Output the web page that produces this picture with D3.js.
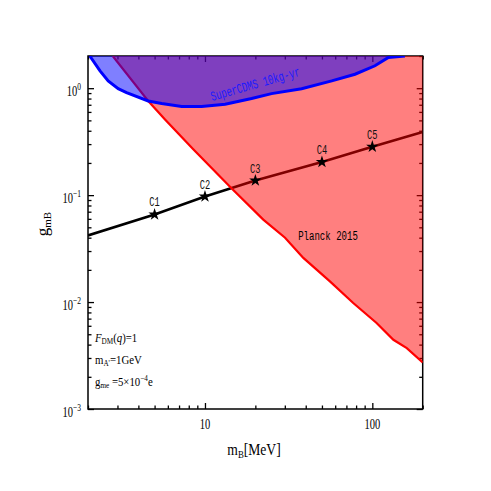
<!DOCTYPE html>
<html><head><meta charset="utf-8">
<script src="https://cdn.jsdelivr.net/npm/d3@7"></script>
<style>body{margin:0;background:#fff}svg{display:block}</style>
</head><body>
<script>
// ---- data ----
const benchMass = [5, 10, 20, 50, 100];
const benchG = [0.066, 0.097, 0.137, 0.204, 0.284];
const benchNames = ["C1", "C2", "C3", "C4", "C5"];
const lineMass = [2, 5, 10, 20, 50, 100, 200];
const lineG = [0.042, 0.066, 0.097, 0.137, 0.204, 0.284, 0.39];
const planckMass = [2.81, 4.58, 5.77, 8.51, 14.4, 22.3, 30.1, 38.7, 55.8, 76.9, 106, 133.6, 160.7, 200];
const planckG = [2.0, 0.76, 0.51, 0.268, 0.116, 0.059, 0.040, 0.0259, 0.0156, 0.0098, 0.00637, 0.00444, 0.00371, 0.00272];
const cdmsMass = [2.05, 2.36, 2.64, 3.03, 3.40, 4.58, 5.51, 7.26, 9.55, 13.2, 19.0, 25.0, 37.8, 57.2, 78.8, 103.7, 124.7, 156.6];
const cdmsG = [2.0, 1.45, 1.17, 0.99, 0.91, 0.76, 0.72, 0.673, 0.673, 0.708, 0.80, 0.89, 0.99, 1.17, 1.35, 1.62, 1.94, 2.0];
const xMajor = [10, 100];
const xMajorLabels = ["10", "100"];
const xMinor = [2,3,4,5,6,7,8,9,20,30,40,50,60,70,80,90,200];
const yMajor = [1e-3, 1e-2, 1e-1, 1];
const yMajorExp = ["-3", "-2", "-1", "0"];
const yMinor = [];
[1e-3,1e-2,1e-1,1].forEach(d => [2,3,4,5,6,7,8,9].forEach(k => { if (k*d <= 2.0001) yMinor.push(k*d); }));
const xDomain = [2, 200];
const yDomain = [1e-3, 2];

// ---- layout ----
const W = 491, H = 491;
const L = 88, R = 422.7, T = 56, B = 409;
const svg = d3.select("body").append("svg").attr("width", W).attr("height", H);
svg.append("rect").attr("width", W).attr("height", H).attr("fill", "#fff");
const x = d3.scaleLog().domain(xDomain).range([L, R]);
const y = d3.scaleLog().domain(yDomain).range([B, T]);

svg.append("defs").append("clipPath").attr("id", "clip")
  .append("rect").attr("x", L).attr("y", T).attr("width", R - L).attr("height", B - T);

// axes (ticks inward)
function addAxis(gen, tx, ty, vals, size) {
  const g = svg.append("g").attr("transform", `translate(${tx},${ty})`)
    .call(gen.tickValues(vals).tickSize(size).tickFormat(""));
  g.select(".domain").remove();
  g.selectAll(".tick line").attr("stroke", "#000").attr("stroke-width", 1.3);
  return g;
}
addAxis(d3.axisBottom(x), 0, B, xMajor, -6);
addAxis(d3.axisBottom(x), 0, B, xMinor, -3.5);
addAxis(d3.axisTop(x), 0, T, xMajor, -6);
addAxis(d3.axisTop(x), 0, T, xMinor, -3.5);
addAxis(d3.axisLeft(y), L, 0, yMajor, -6);
addAxis(d3.axisLeft(y), L, 0, yMinor, -3.5);
addAxis(d3.axisRight(y), R, 0, yMajor, -6);
addAxis(d3.axisRight(y), R, 0, yMinor, -3.5);
svg.append("rect").attr("x", L).attr("y", T).attr("width", R - L).attr("height", B - T)
  .attr("fill", "none").attr("stroke", "#000").attr("stroke-width", 1.5);

// tick labels
const serif = "'Liberation Serif','Times New Roman',serif";
const mono = "'Liberation Mono','DejaVu Sans Mono',monospace";
xMajor.forEach((v, i) => {
  svg.append("g").attr("transform", `translate(${x(v)},${B + 19.5}) scale(0.75,1)`)
    .append("text").attr("text-anchor", "middle").attr("font-family", serif).attr("font-size", 14)
    .text(xMajorLabels[i]);
});
yMajor.forEach((v, i) => {
  const t = svg.append("g").attr("transform", `translate(${81},${y(v) + 7.5}) scale(0.75,1)`)
    .append("text").attr("text-anchor", "end").attr("font-family", serif).attr("font-size", 14);
  t.append("tspan").text("10");
  t.append("tspan").attr("font-size", 10).attr("dy", -6).text(yMajorExp[i].replace("-", "\u2212"));
});

// axis titles
{
  const t = svg.append("g").attr("transform", `translate(254,455) scale(0.8,1)`)
    .append("text").attr("text-anchor", "middle").attr("font-family", serif).attr("font-size", 17);
  t.append("tspan").text("m");
  t.append("tspan").attr("font-size", 11).attr("dy", 3).text("B");
  t.append("tspan").attr("dy", -3).text("[MeV]");
}
{
  const t = svg.append("g").attr("transform", `translate(48,224) rotate(-90)`)
    .append("text").attr("text-anchor", "middle").attr("font-family", serif).attr("font-size", 17);
  t.append("tspan").text("g");
  t.append("tspan").attr("font-size", 11).attr("dy", 3).text("mB");
}

const plot = svg.append("g").attr("clip-path", "url(#clip)");
const lineGen = d3.line().x(d => x(d[0])).y(d => y(d[1]));

// benchmark line (under the fills)
plot.append("path").datum(d3.zip(lineMass, lineG)).attr("d", lineGen)
  .attr("fill", "none").attr("stroke", "#000").attr("stroke-width", 2.6);

// Planck text (under red fill)
svg.append("g").attr("transform", `translate(328,240) scale(0.67,1)`)
  .append("text").attr("text-anchor", "middle").attr("font-family", mono).attr("font-size", 13.5)
  .attr("fill", "#000").text("Planck 2015");

// Planck region
const planckPts = d3.zip(planckMass, planckG);
const planckPoly = planckPts.concat([[xDomain[1], yDomain[1]]]);
plot.append("path").datum(planckPoly).attr("d", d => lineGen(d) + "Z")
  .attr("fill", "rgb(255,0,0)").attr("fill-opacity", 0.5).attr("stroke", "none");
plot.append("path").datum(planckPts).attr("d", lineGen)
  .attr("fill", "none").attr("stroke", "#ff0000").attr("stroke-width", 2.2);

// SuperCDMS region
const cdmsPts = d3.zip(cdmsMass, cdmsG);
plot.append("path").datum(cdmsPts).attr("d", d => lineGen(d) + "Z")
  .attr("fill", "rgb(0,0,255)").attr("fill-opacity", 0.5).attr("stroke", "none");
plot.append("path").datum(cdmsPts).attr("d", lineGen)
  .attr("fill", "none").attr("stroke", "#0000ff").attr("stroke-width", 3);

svg.append("g").attr("transform", `translate(212,101) rotate(-16) scale(0.67,1)`)
  .append("text").attr("font-family", mono).attr("font-size", 13.5)
  .attr("fill", "#1a1aff").text("SuperCDMS 10kg-yr");

// stars + labels
const star = d3.symbol().type(d3.symbolStar).size(48);
benchMass.forEach((m, i) => {
  svg.append("path").attr("d", star).attr("transform", `translate(${x(m)},${y(benchG[i])})`)
    .attr("fill", "#000");
  svg.append("g").attr("transform", `translate(${x(m)},${y(benchG[i]) - 8}) scale(0.7,1)`)
    .append("text").attr("text-anchor", "middle").attr("font-family", mono).attr("font-size", 12.5)
    .attr("fill", "#111").text(benchNames[i]);
});

// annotations
{
  const g = svg.append("g").attr("font-family", serif).attr("font-size", 13.5);
  const a = g.append("g").attr("transform", "translate(95,342) scale(0.8,1)").append("text");
  a.append("tspan").attr("font-style", "italic").text("F");
  a.append("tspan").attr("font-size", 9).attr("dy", 2).text("DM");
  a.append("tspan").attr("dy", -2).text("(");
  a.append("tspan").attr("font-style", "italic").text("q");
  a.append("tspan").text(")=1");
  const b = g.append("g").attr("transform", "translate(95,364) scale(0.8,1)").append("text");
  b.append("tspan").text("m");
  b.append("tspan").attr("font-size", 9).attr("dy", 2).text("A'");
  b.append("tspan").attr("dy", -2).text("=1GeV");
  const c = g.append("g").attr("transform", "translate(95,386) scale(0.8,1)").append("text");
  c.append("tspan").text("g");
  c.append("tspan").attr("font-size", 9).attr("dy", 2).text("me");
  c.append("tspan").attr("dy", -2).text(" =5\u00d710");
  c.append("tspan").attr("font-size", 9).attr("dy", -5).text("\u22124");
  c.append("tspan").attr("dy", 5).text("e");
}
</script>
</body></html>
